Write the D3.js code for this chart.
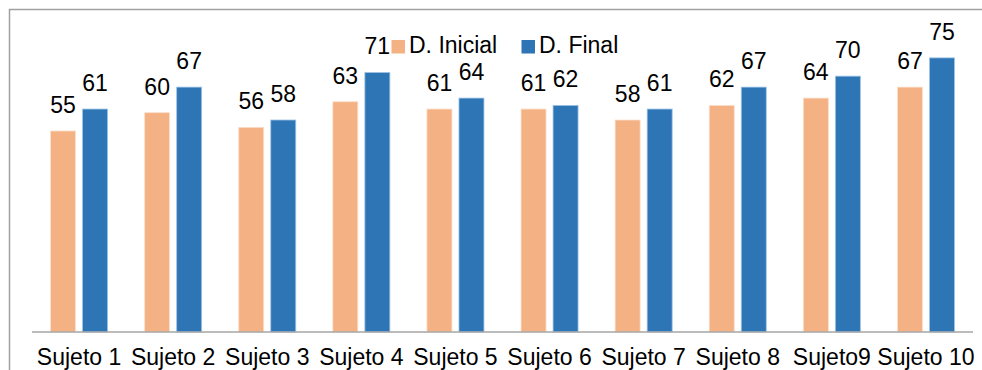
<!DOCTYPE html>
<html>
<head>
<meta charset="utf-8">
<script src="https://cdn.jsdelivr.net/npm/d3@7/dist/d3.min.js"></script>
<style>
  html, body { margin: 0; padding: 0; background: #fff; }
  svg { display: block; font-family: "Liberation Sans", Arial, sans-serif; }
</style>
</head>
<body>
<svg id="chart" width="982" height="370"></svg>
<script>
// Scores per subject: initial and final
const categories = ["Sujeto 1", "Sujeto 2", "Sujeto 3", "Sujeto 4", "Sujeto 5",
                    "Sujeto 6", "Sujeto 7", "Sujeto 8", "Sujeto9", "Sujeto 10"];
const inicial = [55, 60, 56, 63, 61, 61, 58, 62, 64, 67];
const final   = [61, 67, 58, 71, 64, 62, 61, 67, 70, 75];
const seriesNames = ["D. Inicial", "D. Final"];
const seriesColors = ["#F4B183", "#2E75B6"];

const W = 982, H = 370;
const svg = d3.select("#chart");

// outer frame
svg.append("rect")
  .attr("x", 9.5).attr("y", 9.5)
  .attr("width", W + 20).attr("height", H + 20)
  .attr("fill", "none").attr("stroke", "#a0a0a0").attr("stroke-width", 1.5);

const plotLeft = 32, plotRight = 973, baseY = 332;
const x0 = d3.scaleBand().domain(categories).range([plotLeft, plotRight])
  .paddingInner(0.394).paddingOuter(0.197);
const x1 = d3.scaleBand().domain([0, 1]).range([0, x0.bandwidth()]).paddingInner(0.22);
const y = d3.scaleLinear().domain([0, 90]).range([baseY, baseY - 90 * 3.655]);

const rows = categories.map((c, i) => ({ cat: c, vals: [inicial[i], final[i]] }));

const groups = svg.append("g").selectAll("g").data(rows).join("g")
  .attr("transform", d => `translate(${x0(d.cat)},0)`);

groups.selectAll("rect").data(d => d.vals.map((v, k) => ({ v, k }))).join("rect")
  .attr("x", d => x1(d.k))
  .attr("y", d => y(d.v))
  .attr("width", x1.bandwidth())
  .attr("height", d => y(0) - y(d.v))
  .attr("fill", d => seriesColors[d.k])
  .attr("stroke", d => d.k === 0 ? "#fbe0cc" : "#9dc3e6")
  .attr("stroke-width", 0.8);

groups.selectAll("text").data(d => d.vals.map((v, k) => ({ v, k }))).join("text")
  .attr("x", d => x1(d.k) + x1.bandwidth() / 2)
  .attr("y", d => y(d.v) - 18)
  .attr("text-anchor", "middle")
  .attr("font-size", 23)
  .attr("fill", "#000")
  .text(d => d.v);

// category axis
const xAxis = svg.append("g").attr("transform", `translate(0,${baseY})`)
  .call(d3.axisBottom(x0).tickSize(0).tickPadding(0));
xAxis.select(".domain").attr("stroke", "#a6a6a6").attr("stroke-width", 1.5)
  .attr("d", `M${plotLeft},0H${plotRight}`);
xAxis.selectAll(".tick text")
  .attr("y", 33).attr("dy", 0)
  .attr("font-size", 23)
  .attr("font-family", "Liberation Sans, Arial, sans-serif")
  .attr("fill", "#000");

// legend
const legendX = [391.5, 521.5];
const legend = svg.append("g");
seriesNames.forEach((name, k) => {
  legend.append("rect")
    .attr("x", legendX[k]).attr("y", 40)
    .attr("width", 13.5).attr("height", 13.5)
    .attr("fill", seriesColors[k]);
  legend.append("text")
    .attr("x", legendX[k] + 17.5).attr("y", 53.3)
    .attr("font-size", 23).attr("fill", "#000")
    .text(name);
});
</script>
</body>
</html>
